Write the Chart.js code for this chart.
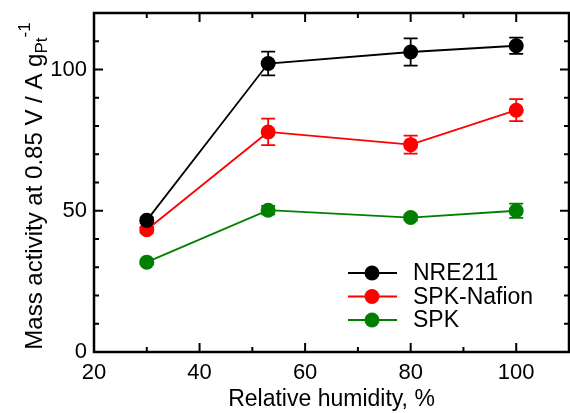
<!DOCTYPE html>
<html>
<head>
<meta charset="utf-8">
<script src="https://cdn.jsdelivr.net/npm/chart.js@4.4.1/dist/chart.umd.min.js"></script>
<style>
html,body{margin:0;padding:0;background:#fff;}
canvas{display:block;}
</style>
</head>
<body>
<canvas id="c" width="570" height="413"></canvas>
<script>
// ---- data ----
const categories = [30, 53, 80, 100];            // Relative humidity, %
const seriesNames = ['NRE211', 'SPK-Nafion', 'SPK'];
const nre211 = [46.6, 102.1, 106.2, 108.4];
const nre211Err = [1.0, 4.2, 4.8, 2.9];
const spkNafion = [43.3, 77.9, 73.4, 85.6];
const spkNafionErr = [1.0, 4.7, 3.2, 3.9];
const spk = [31.8, 50.2, 47.6, 50.0];
const spkErr = [0.8, 1.5, 1.0, 2.5];
const xTicks = [20, 40, 60, 80, 100];
const yTicks = [0, 50, 100];
const xMinor = [30, 50, 70, 90];
const yMinor = [10, 20, 30, 40, 60, 70, 80, 90, 110];

const colors = ['#000000', '#ff0000', '#008000'];
const values = [nre211, spkNafion, spk];
const errors = [nre211Err, spkNafionErr, spkErr];
const FONT = '"Liberation Sans", Arial, sans-serif';

const datasets = values.map((vals, i) => ({
  label: seriesNames[i],
  data: vals.map((v, j) => ({x: categories[j], y: v})),
  borderColor: colors[i],
  backgroundColor: colors[i],
  pointBackgroundColor: colors[i],
  pointBorderWidth: 0,
  pointRadius: 7.5,
  pointHoverRadius: 7.5,
  borderWidth: 1.8,
  tension: 0
}));

const decor = {
  id: 'decor',
  afterLayout(chart) {
    // stretch the plot area to the right edge (1px margin), as in the original figure
    const xs = chart.scales.x, target = chart.width - 1;
    xs.right = target;
    xs.width = target - xs.left;
    xs.configure();
    chart.chartArea.right = target;
    chart.chartArea.width = target - chart.chartArea.left;
  },
  beforeDatasetsDraw(chart) {
    const ctx = chart.ctx, xs = chart.scales.x, ys = chart.scales.y;
    ctx.save();
    values.forEach((vals, i) => {
      ctx.strokeStyle = colors[i];
      ctx.lineWidth = 1.8;
      vals.forEach((v, j) => {
        const e = errors[i][j];
        const px = xs.getPixelForValue(categories[j]);
        const t = ys.getPixelForValue(v + e), b = ys.getPixelForValue(v - e);
        ctx.beginPath();
        ctx.moveTo(px, t); ctx.lineTo(px, b);
        ctx.moveTo(px - 7, t); ctx.lineTo(px + 7, t);
        ctx.moveTo(px - 7, b); ctx.lineTo(px + 7, b);
        ctx.stroke();
      });
    });
    ctx.restore();
  },
  afterDraw(chart) {
    const ctx = chart.ctx, a = chart.chartArea, xs = chart.scales.x, ys = chart.scales.y;
    ctx.save();
    // frame
    ctx.strokeStyle = '#000';
    ctx.lineWidth = 2.5;
    ctx.strokeRect(a.left, a.top, a.right - a.left, a.bottom - a.top);
    // ticks inward on all four sides
    ctx.lineWidth = 2;
    const tick = (v, len, axis) => {
      ctx.beginPath();
      if (axis === 'x') {
        const p = xs.getPixelForValue(v);
        ctx.moveTo(p, a.bottom); ctx.lineTo(p, a.bottom - len);
        ctx.moveTo(p, a.top); ctx.lineTo(p, a.top + len);
      } else {
        const p = ys.getPixelForValue(v);
        ctx.moveTo(a.left, p); ctx.lineTo(a.left + len, p);
        ctx.moveTo(a.right, p); ctx.lineTo(a.right - len, p);
      }
      ctx.stroke();
    };
    xTicks.forEach(v => tick(v, 9, 'x'));
    xMinor.forEach(v => tick(v, 5, 'x'));
    yTicks.forEach(v => tick(v, 9, 'y'));
    yMinor.forEach(v => tick(v, 5, 'y'));

    // legend
    const rows = [273, 296.5, 320];
    chart.data.datasets.forEach((ds, i) => {
      const y = rows[i];
      ctx.strokeStyle = ds.borderColor;
      ctx.lineWidth = 1.8;
      ctx.beginPath(); ctx.moveTo(348, y); ctx.lineTo(397, y); ctx.stroke();
      ctx.fillStyle = ds.borderColor;
      ctx.beginPath(); ctx.arc(372, y, 7.5, 0, Math.PI * 2); ctx.fill();
      ctx.fillStyle = '#000';
      ctx.font = '23px ' + FONT;
      ctx.textBaseline = 'middle';
      ctx.textAlign = 'left';
      ctx.fillText(ds.label, 413, y + 1);
    });

    // y-axis title with subscript / superscript
    ctx.translate(42, 186);
    ctx.rotate(-Math.PI / 2);
    ctx.fillStyle = '#000';
    ctx.textBaseline = 'alphabetic';
    ctx.textAlign = 'left';
    const main = 'Mass activity at 0.85 V / A g';
    const sub = 'Pt', sup = '-1';
    ctx.font = '24px ' + FONT;
    const wMain = ctx.measureText(main).width;
    ctx.font = '17px ' + FONT;
    const wSub = ctx.measureText(sub).width;
    const wSup = ctx.measureText(sup).width;
    const total = wMain + wSub + wSup;
    let x0 = -total / 2;
    ctx.font = '24px ' + FONT;
    ctx.fillText(main, x0, 0);
    ctx.font = '17px ' + FONT;
    ctx.fillText(sub, x0 + wMain, 5);
    ctx.fillText(sup, x0 + wMain + wSub, -12);
    ctx.restore();
  }
};

new Chart(document.getElementById('c'), {
  type: 'line',
  data: { datasets },
  options: {
    responsive: false,
    animation: false,
    events: [],
    layout: { padding: { top: 13, right: 1, left: 0, bottom: 0 } },
    plugins: { legend: { display: false }, tooltip: { enabled: false } },
    scales: {
      x: {
        type: 'linear',
        min: 20, max: 110,
        grid: { display: false, drawTicks: false },
        border: { display: false },
        afterBuildTicks: s => { s.ticks = xTicks.map(v => ({value: v})); },
        afterFit: s => { s.height = 61; s.paddingLeft = 0; s.paddingRight = 0; },
        ticks: { color: '#000', padding: 8, font: { family: FONT, size: 22 }, maxRotation: 0 },
        title: { display: true, text: 'Relative humidity, %', color: '#000',
                 font: { family: FONT, size: 23 }, padding: { top: 0, bottom: 0 } }
      },
      y: {
        type: 'linear',
        min: 0, max: 120,
        grid: { display: false, drawTicks: false },
        border: { display: false },
        afterBuildTicks: s => { s.ticks = yTicks.map(v => ({value: v})); },
        afterFit: s => { s.width = 94; s.paddingTop = 0; s.paddingBottom = 0; },
        ticks: { color: '#000', padding: 7, font: { family: FONT, size: 22 } },
        title: { display: false }
      }
    }
  },
  plugins: [decor]
});
</script>
</body>
</html>
